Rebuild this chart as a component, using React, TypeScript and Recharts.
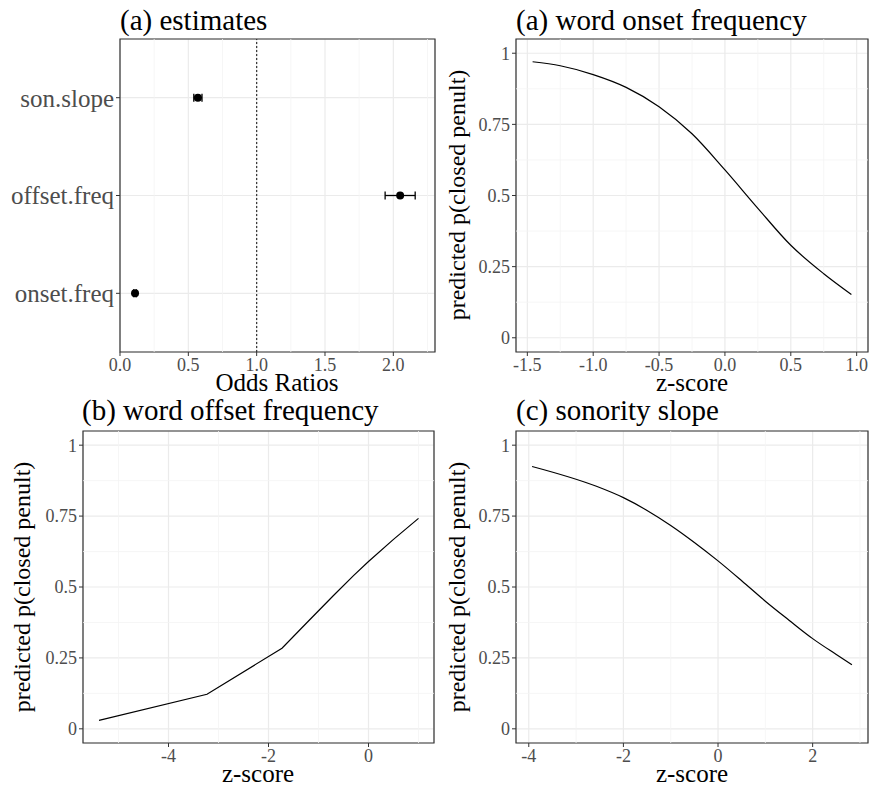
import React from 'react';
import {
  ScatterChart, Scatter, ErrorBar, LineChart, Line, XAxis, YAxis,
  CartesianGrid, ReferenceLine, ReferenceArea,
} from 'recharts';

// (a) estimates: odds ratios with intervals, bottom to top
const estLabels = ['onset.freq', 'offset.freq', 'son.slope'];
const estValues = [0.11, 2.05, 0.57];
const estLower = [0.10, 1.94, 0.54];
const estUpper = [0.12, 2.16, 0.60];
const ratioTicks = [0, 0.5, 1, 1.5, 2];

// (a) word onset frequency
const onsetZ = [-1.46, -1.25, -1.0, -0.75, -0.5, -0.25, 0, 0.25, 0.5, 0.75, 0.96];
const onsetP = [0.970, 0.956, 0.925, 0.880, 0.812, 0.717, 0.590, 0.455, 0.325, 0.225, 0.152];

// (b) word offset frequency
const offsetZ = [-5.39, -3.23, -1.73, -1.2, -0.7, -0.3, 0, 0.5, 1.0];
const offsetP = [0.030, 0.122, 0.284, 0.380, 0.470, 0.540, 0.590, 0.668, 0.742];

// (c) sonority slope
const sonZ = [-3.93, -2.57, -2, -1.5, -1, -0.5, 0, 0.5, 1, 1.5, 2, 2.5, 2.83];
const sonP = [0.925, 0.855, 0.815, 0.770, 0.717, 0.657, 0.592, 0.522, 0.450, 0.383, 0.318, 0.262, 0.226];

const probTicks = [0, 0.25, 0.5, 0.75, 1];

const FONT = '"Liberation Serif", "Times New Roman", serif';
const INK = '#333333';
const TICK_TEXT = { fontSize: 18, fill: '#4d4d4d' };
const MAJOR = '#ebebeb';
const MINOR = '#f4f4f4';

const midpoints = (ticks: number[], lo: number, hi: number) => {
  const step = ticks[1] - ticks[0];
  const out: number[] = [];
  for (let v = ticks[0] - step / 2; v <= hi; v += step) {
    if (v >= lo) out.push(v);
  }
  return out;
};

const dot = (props: any) => <circle cx={props.cx} cy={props.cy} r={4} fill="#000" />;

const EstimatesPanel = () => {
  const data = estLabels.map((name, i) => ({
    name,
    pos: i + 1,
    est: estValues[i],
    err: [estValues[i] - estLower[i], estUpper[i] - estValues[i]],
  }));
  const xDomain: [number, number] = [0, 2.305];
  const yDomain: [number, number] = [0.4, 3.6];
  return (
    <ScatterChart width={440} height={400} margin={{ top: 39, right: 5, bottom: 0, left: 10 }}>
      <CartesianGrid stroke={MAJOR} strokeWidth={1.2} />
      {midpoints(ratioTicks, xDomain[0], xDomain[1]).map(v => (
        <ReferenceLine key={v} x={v} stroke={MINOR} strokeWidth={0.8} />
      ))}
      <XAxis
        type="number" dataKey="est" domain={xDomain} ticks={ratioTicks} allowDataOverflow
        tickFormatter={(v: number) => v.toFixed(1)} height={48}
        axisLine={false} tickLine={{ stroke: INK }} tickSize={4} tick={TICK_TEXT}
      />
      <YAxis
        type="number" dataKey="pos" domain={yDomain} ticks={[1, 2, 3]} allowDataOverflow
        tickFormatter={(v: number) => estLabels[v - 1]} width={110}
        axisLine={false} tickLine={{ stroke: INK }} tickSize={4}
        tick={{ fontSize: 25, fill: '#4d4d4d' }}
      />
      <ReferenceLine x={1} stroke={INK} strokeDasharray="2 2" strokeWidth={1.2} />
      <ReferenceArea x1={xDomain[0]} x2={xDomain[1]} y1={yDomain[0]} y2={yDomain[1]}
        fill="none" stroke={INK} strokeWidth={1.2} />
      <Scatter data={data} shape={dot} isAnimationActive={false}>
        <ErrorBar dataKey="err" direction="x" width={4} stroke="#000" strokeWidth={1.3} />
      </Scatter>
    </ScatterChart>
  );
};

type CurveProps = {
  z: number[];
  p: number[];
  curve: 'linear' | 'monotone';
  xDomain: [number, number];
  xTicks: number[];
  decimals: number;
  width: number;
  height: number;
  margin: { top: number; right: number; bottom: number; left: number };
  yAxisWidth: number;
  xAxisHeight: number;
};

const CurvePanel = ({ z, p, curve, xDomain, xTicks, decimals, width, height, margin, yAxisWidth, xAxisHeight }: CurveProps) => {
  const data = z.map((x, i) => ({ x, y: p[i] }));
  const yDomain: [number, number] = [-0.05, 1.05];
  return (
    <LineChart width={width} height={height} data={data} margin={margin}>
      <CartesianGrid stroke={MAJOR} strokeWidth={1.2} />
      {midpoints(xTicks, xDomain[0], xDomain[1]).map(v => (
        <ReferenceLine key={'x' + v} x={v} stroke={MINOR} strokeWidth={0.8} />
      ))}
      {midpoints(probTicks, yDomain[0], yDomain[1]).map(v => (
        <ReferenceLine key={'y' + v} y={v} stroke={MINOR} strokeWidth={0.8} />
      ))}
      <XAxis
        type="number" dataKey="x" domain={xDomain} ticks={xTicks} allowDataOverflow
        tickFormatter={(v: number) => v.toFixed(decimals)} height={xAxisHeight}
        axisLine={false} tickLine={{ stroke: INK }} tickSize={4} tick={TICK_TEXT}
      />
      <YAxis
        type="number" domain={yDomain} ticks={probTicks} allowDataOverflow
        tickFormatter={(v: number) => String(v)} width={yAxisWidth}
        axisLine={false} tickLine={{ stroke: INK }} tickSize={4} tick={TICK_TEXT}
      />
      <ReferenceArea x1={xDomain[0]} x2={xDomain[1]} y1={yDomain[0]} y2={yDomain[1]}
        fill="none" stroke={INK} strokeWidth={1.2} />
      <Line type={curve} dataKey="y" stroke="#000" strokeWidth={1.2} dot={false} isAnimationActive={false} />
    </LineChart>
  );
};

const yTitle = 'predicted p(closed penult)';

export default function App() {
  return (
    <div style={{ position: 'absolute', left: 0, top: 0, width: 870, height: 786, background: '#fff', fontFamily: FONT }}>
      <div style={{ position: 'absolute', left: 0, top: 0 }}>
        <EstimatesPanel />
      </div>
      <div style={{ position: 'absolute', left: 440, top: 0 }}>
        <CurvePanel z={onsetZ} p={onsetP} curve="monotone" xDomain={[-1.586, 1.086]} xTicks={[-1.5, -1, -0.5, 0, 0.5, 1]}
          decimals={1} width={430} height={400} margin={{ top: 39, right: 2, bottom: 0, left: 0 }}
          yAxisWidth={76} xAxisHeight={48} />
      </div>
      <div style={{ position: 'absolute', left: 0, top: 390 }}>
        <CurvePanel z={offsetZ} p={offsetP} curve="linear" xDomain={[-5.71, 1.31]} xTicks={[-4, -2, 0]}
          decimals={0} width={440} height={396} margin={{ top: 41, right: 6, bottom: 0, left: 0 }}
          yAxisWidth={83} xAxisHeight={43} />
      </div>
      <div style={{ position: 'absolute', left: 440, top: 390 }}>
        <CurvePanel z={sonZ} p={sonP} curve="monotone" xDomain={[-4.27, 3.17]} xTicks={[-4, -2, 0, 2]}
          decimals={0} width={430} height={396} margin={{ top: 41, right: 2, bottom: 0, left: 0 }}
          yAxisWidth={76} xAxisHeight={43} />
      </div>
      <svg width={870} height={786} style={{ position: 'absolute', left: 0, top: 0, pointerEvents: 'none' }}>
        <g fontSize={29} fill="#000">
          <text x={120} y={30}>(a) estimates</text>
          <text x={516} y={30}>(a) word onset frequency</text>
          <text x={82} y={420}>(b) word offset frequency</text>
          <text x={516} y={420}>(c) sonority slope</text>
        </g>
        <g fontSize={25} fill="#000" textAnchor="middle">
          <text x={277} y={391}>Odds Ratios</text>
          <text x={692} y={391}>z-score</text>
          <text x={258} y={782}>z-score</text>
          <text x={692} y={782}>z-score</text>
        </g>
        <g fontSize={24} fill="#000" textAnchor="middle">
          <text transform="translate(465,195) rotate(-90)">{yTitle}</text>
          <text transform="translate(30,587) rotate(-90)">{yTitle}</text>
          <text transform="translate(465,587) rotate(-90)">{yTitle}</text>
        </g>
      </svg>
    </div>
  );
}
